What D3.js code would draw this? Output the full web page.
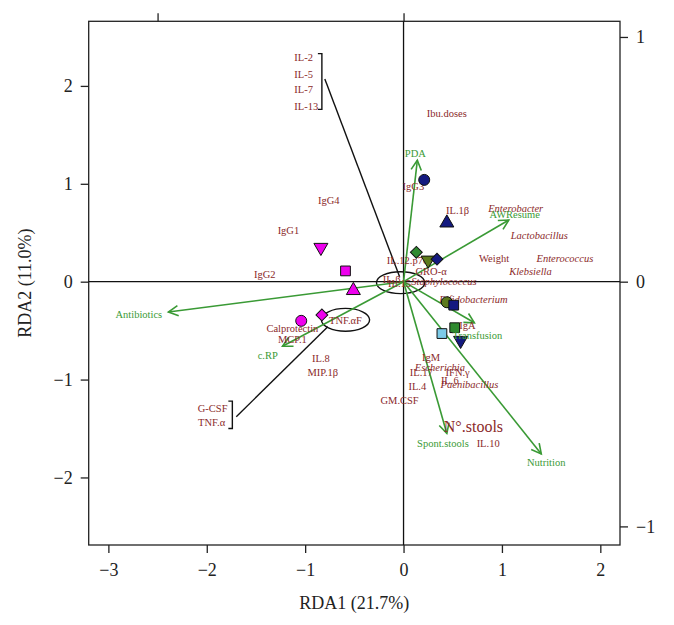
<!DOCTYPE html>
<html>
<head>
<meta charset="utf-8">
<script src="https://cdn.jsdelivr.net/npm/d3@7"></script>
<style>
  html, body { margin: 0; padding: 0; background: #fff; }
  svg { display: block; }
</style>
</head>
<body>
<svg id="chart" width="674" height="625"></svg>
<script>
// ---------- DATA ----------
// sample scores (symbols)
const siteX     = [0.21, 0.44, -0.84, -0.59, 0.13, 0.25, 0.34, -0.51, -0.83, -1.04, 0.44, 0.51, 0.52, 0.39, 0.58];
const siteY     = [1.04, 0.60, 0.35, 0.11, 0.30, 0.22, 0.23, -0.09, -0.34, -0.40, -0.21, -0.24, -0.47, -0.53, -0.60];
const siteShape = ["circle","triUp","triDown","square","diamond","triDown","diamond","triUp","diamond","circle","circle","square","square","square","triDown"];
const siteGroup = ["navy","navy","magenta","magenta","green","olive","navy","magenta","magenta","magenta","olive","navy","green","lightblue","navy"];

// explanatory variables (green arrows)
const envNames  = ["PDA","AWResume","Antibiotics","c.RP","Transfusion","Spont.stools","Nutrition"];
const envX      = [0.14, 1.07, -2.39, -1.23, 0.72, 0.44, 1.40];
const envY      = [1.24, 0.63, -0.31, -0.66, -0.42, -1.55, -1.76];
const envLabX   = [0.12, 1.13, -2.69, -1.38, 0.75, 0.40, 1.45];
const envLabY   = [1.31, 0.69, -0.33, -0.75, -0.55, -1.65, -1.85];

// response variables (red labels)
const respNames = ["Ibu.doses","IgG3","IgG4","IgG1","IgG2","IL.1β","Enterobacter","Lactobacillus","Weight",
                   "Enterococcus","Klebsiella","IL.12.p70","GRO-α","Staphylococcus","IL.β","IL.15","Bifidobacterium",
                   "IgA","IgM","Escherichia","IL.17","IFN.γ","IL.6","Paenibacillus","IL.4","GM.CSF","IL.10",
                   "Calprotectin","MCP.1","IL.8","MIP.1β","TNF.αF","G-CSF","TNF.α"];
const respX     = [0.44, 0.10, -0.76, -1.17, -1.41, 0.55, 1.14, 1.38, 0.92,
                   1.64, 1.29, 0.04, 0.28, 0.41, -0.12, -0.04, 0.71,
                   0.65, 0.28, 0.37, 0.18, 0.55, 0.47, 0.67, 0.14, -0.04, 0.86,
                   -1.13, -1.13, -0.84, -0.82, -0.59, -1.94, -1.95];
const respY     = [1.72, 0.97, 0.83, 0.52, 0.08, 0.73, 0.75, 0.47, 0.24,
                   0.24, 0.11, 0.22, 0.11, 0.00, 0.02, -0.02, -0.18,
                   -0.45, -0.77, -0.87, -0.93, -0.93, -1.01, -1.05, -1.07, -1.21, -1.65,
                   -0.48, -0.59, -0.78, -0.93, -0.39, -1.29, -1.44];
const genera    = ["Enterobacter","Lactobacillus","Enterococcus","Klebsiella","Staphylococcus","Bifidobacterium","Escherichia","Paenibacillus"];

// highlighted response
const bigName = "N°.stools", bigX = 0.71, bigY = -1.48;

// bracketed group (top left)
const groupTop   = ["IL-2","IL-5","IL-7","IL-13"];
const groupTopY  = [2.29, 2.12, 1.96, 1.79];
const groupTopX  = -1.11;

// ellipses [cx, cy, rx, ry]
const ellipses = [[-0.03, -0.01, 0.245, 0.112], [-0.59, -0.39, 0.245, 0.117]];

// connector lines [x1,y1,x2,y2]
const connectors = [[-0.80, 2.07, -0.04, 0.05], [-1.70, -1.38, -0.77, -0.46]];
// brackets [x, yTop, yBottom]
const brackets = [[-0.83, 2.33, 1.76], [-1.74, -1.22, -1.50]];

// axis ticks
const xTicks = [-3, -2, -1, 0, 1, 2];
const yTicks = [-2, -1, 0, 1, 2];
const y2Ticks = [-1, 0, 1];
const x2Ticks = [-1, 0];
const secondaryFactor = 2.5;

// ---------- LAYOUT ----------
const svg = d3.select("#chart");
const L = 88.7, R = 620, T = 21.3, B = 545;
const x = d3.scaleLinear().domain([-3.2, 2.2]).range([L, R]);
const y = d3.scaleLinear().domain([-2.69, 2.66]).range([B, T]);
const x2 = d3.scaleLinear().domain(x.domain().map(d => d / secondaryFactor)).range([L, R]);
const y2 = d3.scaleLinear().domain(y.domain().map(d => d / secondaryFactor)).range([B, T]);

const serif = "'Liberation Serif', 'DejaVu Serif', serif";
const red = "#8b2a2a";
const green = "#3a9a35";
const colors = d3.scaleOrdinal()
  .domain(["navy","magenta","green","olive","lightblue"])
  .range(["#141a80", "#ee00ee", "#2f8a2f", "#5d7a1c", "#7ccbe8"]);

// axes
function styleAxis(g) {
  g.selectAll(".domain").remove();
  g.selectAll(".tick line").attr("stroke", "#222").attr("stroke-width", 1.3);
  g.selectAll(".tick text").attr("font-family", serif).attr("font-size", 18).attr("fill", "#222");
}
svg.append("g").attr("transform", `translate(0,${B})`)
  .call(d3.axisBottom(x).tickValues(xTicks).tickSize(8).tickPadding(10).tickFormat(d3.format("")))
  .call(styleAxis);
svg.append("g").attr("transform", `translate(${L},0)`)
  .call(d3.axisLeft(y).tickValues(yTicks).tickSize(8).tickPadding(8).tickFormat(d3.format("")))
  .call(styleAxis);
svg.append("g").attr("transform", `translate(${R},0)`)
  .call(d3.axisRight(y2).tickValues(y2Ticks).tickSize(8).tickPadding(8).tickFormat(d3.format("")))
  .call(styleAxis);
svg.append("g").attr("transform", `translate(0,${T})`)
  .call(d3.axisTop(x2).tickValues(x2Ticks).tickSize(8).tickFormat(""))
  .call(styleAxis);

// frame
svg.append("rect").attr("x", L).attr("y", T).attr("width", R - L).attr("height", B - T)
  .attr("fill", "none").attr("stroke", "#222").attr("stroke-width", 1.3);
// zero lines
svg.append("line").attr("x1", L).attr("x2", R).attr("y1", y(0)).attr("y2", y(0)).attr("stroke", "#111").attr("stroke-width", 1.3);
svg.append("line").attr("x1", x(0)).attr("x2", x(0)).attr("y1", T).attr("y2", B).attr("stroke", "#111").attr("stroke-width", 1.3);

// axis titles
svg.append("text").attr("x", (L + R) / 2).attr("y", 609).attr("text-anchor", "middle")
  .attr("font-family", serif).attr("font-size", 18).attr("fill", "#222").text("RDA1 (21.7%)");
svg.append("text").attr("transform", `translate(31,${(T + B) / 2}) rotate(-90)`).attr("text-anchor", "middle")
  .attr("font-family", serif).attr("font-size", 18).attr("fill", "#222").text("RDA2 (11.0%)");

// connectors & brackets
const gAnn = svg.append("g");
connectors.forEach(c => {
  gAnn.append("line").attr("x1", x(c[0])).attr("y1", y(c[1])).attr("x2", x(c[2])).attr("y2", y(c[3]))
    .attr("stroke", "#111").attr("stroke-width", 1.4);
});
brackets.forEach(b => {
  const bx = x(b[0]);
  gAnn.append("path").attr("d", `M${bx - 4},${y(b[1])}H${bx}V${y(b[2])}H${bx - 4}`)
    .attr("fill", "none").attr("stroke", "#111").attr("stroke-width", 1.4);
  const mid = (y(b[1]) + y(b[2])) / 2;
});
// ellipses
ellipses.forEach(e => {
  gAnn.append("ellipse").attr("cx", x(e[0])).attr("cy", y(e[1]))
    .attr("rx", x(e[2]) - x(0)).attr("ry", y(0) - y(e[3]))
    .attr("fill", "none").attr("stroke", "#111").attr("stroke-width", 1.4);
});

// arrows
const gEnv = svg.append("g");
envNames.forEach((n, i) => {
  const x0 = x(0), y0 = y(0), x1 = x(envX[i]), y1 = y(envY[i]);
  gEnv.append("line").attr("x1", x0).attr("y1", y0).attr("x2", x1).attr("y2", y1)
    .attr("stroke", green).attr("stroke-width", 1.6);
  const ang = Math.atan2(y1 - y0, x1 - x0), len = 11, spread = Math.PI / 6.5;
  const p1 = [x1 - len * Math.cos(ang - spread), y1 - len * Math.sin(ang - spread)];
  const p2 = [x1 - len * Math.cos(ang + spread), y1 - len * Math.sin(ang + spread)];
  gEnv.append("path").attr("d", `M${p1[0]},${p1[1]}L${x1},${y1}L${p2[0]},${p2[1]}`)
    .attr("fill", "none").attr("stroke", green).attr("stroke-width", 1.6);
});

// response labels
const gResp = svg.append("g").attr("font-family", serif).attr("font-size", 10.5).attr("fill", red).attr("text-anchor", "middle");
respNames.forEach((n, i) => {
  gResp.append("text").attr("x", x(respX[i])).attr("y", y(respY[i])).attr("dy", "0.35em")
    .attr("font-style", genera.includes(n) ? "italic" : "normal").text(n);
});
groupTop.forEach((n, i) => {
  gResp.append("text").attr("x", x(groupTopX)).attr("y", y(groupTopY[i])).attr("dy", "0.35em")
    .attr("text-anchor", "start").text(n);
});
gResp.append("text").attr("x", x(bigX)).attr("y", y(bigY)).attr("dy", "0.35em")
  .attr("font-size", 16).text(bigName);

// sites
const shapes = {
  circle:  d3.symbol().type(d3.symbolCircle).size(95),
  square:  d3.symbol().type(d3.symbolSquare).size(95),
  triUp:   d3.symbol().type(d3.symbolTriangle).size(85),
  triDown: d3.symbol().type(d3.symbolTriangle).size(85),
  diamond: d3.symbol().type(d3.symbolSquare).size(70)
};
const rot = { circle: 0, square: 0, triUp: 0, triDown: 180, diamond: 45 };
const gSite = svg.append("g");
siteX.forEach((v, i) => {
  const s = siteShape[i];
  gSite.append("path").attr("d", shapes[s]())
    .attr("transform", `translate(${x(v)},${y(siteY[i])}) rotate(${rot[s]})`)
    .attr("fill", colors(siteGroup[i])).attr("stroke", "#111").attr("stroke-width", 1);
});

// env labels (on top)
const gEnvLab = svg.append("g").attr("font-family", serif).attr("font-size", 10.5).attr("fill", green).attr("text-anchor", "middle");
envNames.forEach((n, i) => {
  gEnvLab.append("text").attr("x", x(envLabX[i])).attr("y", y(envLabY[i])).attr("dy", "0.35em").text(n);
});
</script>
</body>
</html>
